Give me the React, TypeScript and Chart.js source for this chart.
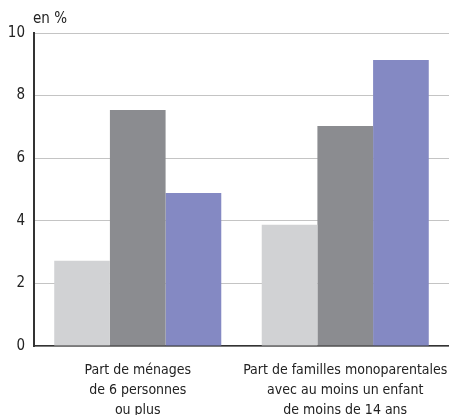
import React, { useEffect, useRef } from "react";
import { Chart, registerables } from "chart.js";

Chart.register(...registerables);

const categories: string[][] = [
  ["Part de ménages", "de 6 personnes", "ou plus"],
  ["Part de familles monoparentales", "avec au moins un enfant", "de moins de 14 ans"],
];
const seriesA: number[] = [2.72, 3.87];
const seriesB: number[] = [7.54, 7.03];
const seriesC: number[] = [4.89, 9.14];
const yTicks: number[] = [0, 2, 4, 6, 8, 10];
const unitLabel = "en %";

const FONT = "'Liberation Sans Narrow', 'DejaVu Sans Condensed', 'Roboto', sans-serif";

export default function App() {
  const ref = useRef<HTMLCanvasElement | null>(null);
  useEffect(() => {
    if (!ref.current) return;
    const unitPlugin = {
      id: "unitLabel",
      afterDraw(chart: any) {
        const { ctx, chartArea } = chart;
        ctx.save();
        ctx.font = `15px ${FONT}`;
        ctx.fillStyle = "#222";
        ctx.textAlign = "left";
        ctx.textBaseline = "alphabetic";
        ctx.fillText(unitLabel, chartArea.left - 1, 23);
        ctx.restore();
      },
    };
    const chart = new Chart(ref.current, {
      type: "bar",
      data: {
        labels: categories,
        datasets: [
          { data: seriesA, backgroundColor: "#d1d2d4" },
          { data: seriesB, backgroundColor: "#8b8c90" },
          { data: seriesC, backgroundColor: "#8489c3" },
        ],
      },
      options: {
        animation: false,
        responsive: false,
        maintainAspectRatio: false,
        layout: { padding: { top: 33, right: -3, left: 0, bottom: 0 } },
        plugins: { legend: { display: false }, tooltip: { enabled: false } },
        datasets: { bar: { categoryPercentage: 0.805, barPercentage: 1.0 } },
        scales: {
          x: {
            afterFit: (s: any) => {
              s.height = 69;
              s.paddingLeft = 0;
              s.paddingRight = 0;
            },
            grid: { display: false },
            border: { display: true, color: "#333", width: 1.5 },
            ticks: {
              color: "#222",
              font: { family: FONT, size: 14, lineHeight: 1.4 },
              padding: 7,
              maxRotation: 0,
              autoSkip: false,
            },
          },
          y: {
            min: 0,
            max: 10,
            afterFit: (s: any) => { s.width = 34; s.paddingTop = 0; s.paddingBottom = 0; },
            afterBuildTicks: (s: any) => { s.ticks = yTicks.map((v) => ({ value: v })); },
            grid: { color: "#c4c4c4", lineWidth: 1, drawTicks: false },
            border: { display: true, color: "#333", width: 2 },
            ticks: {
              color: "#222",
              font: { family: FONT, size: 15 },
              padding: 9,
            },
          },
        },
      },
      plugins: [unitPlugin],
    });
    return () => chart.destroy();
  }, []);
  return (
    <div style={{ position: "absolute", left: 0, top: 0, width: 449, height: 415, background: "#fff" }}>
      <canvas ref={ref} width={449} height={415} style={{ width: 449, height: 415, display: "block" }} />
    </div>
  );
}
